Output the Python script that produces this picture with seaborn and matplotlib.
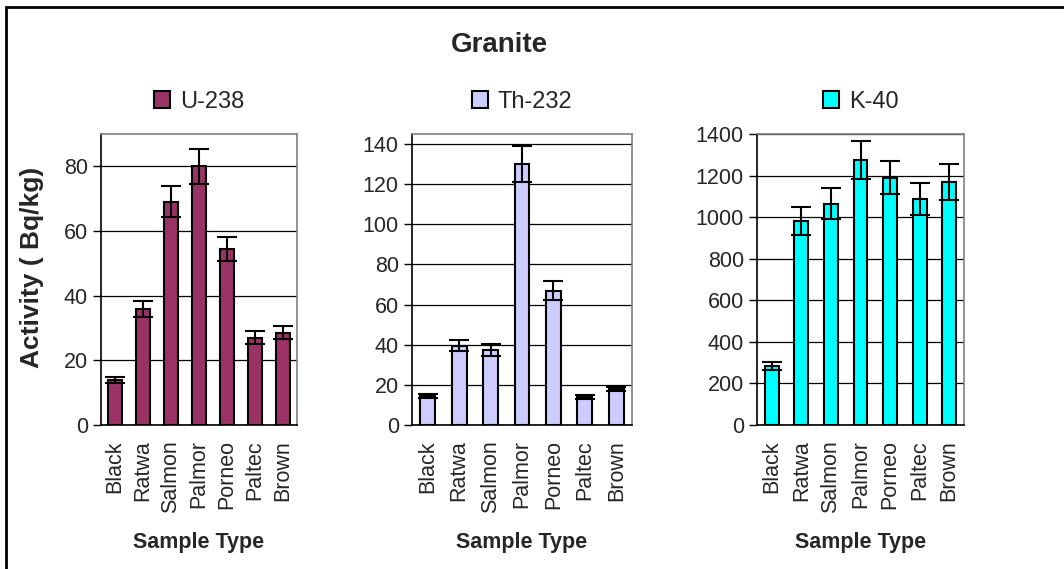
import pandas as pd
import matplotlib
matplotlib.use("Agg")
import matplotlib.pyplot as plt
from matplotlib.patches import Patch, Rectangle
import seaborn as sns

categories = ["Black", "Ratwa", "Salmon", "Palmor", "Porneo", "Paltec", "Brown"]

u238 = [14, 36, 69, 80, 54.5, 27, 28.5]
u238_err = [1, 2.5, 4.8, 5.5, 3.7, 2, 2]

th232 = [14.5, 39.5, 37.5, 130, 67, 14, 18]
th232_err = [1, 2.8, 3, 9, 4.8, 1, 1]

k40 = [285, 980, 1065, 1275, 1190, 1085, 1170]
k40_err = [20, 67, 76, 90, 80, 77, 86]

series = [
    ("U-238", u238, u238_err, "#993366", 90, [0, 20, 40, 60, 80]),
    ("Th-232", th232, th232_err, "#CCCCFF", 145, [0, 20, 40, 60, 80, 100, 120, 140]),
    ("K-40", k40, k40_err, "#00FFFF", 1400, [0, 200, 400, 600, 800, 1000, 1200, 1400]),
]

sns.set_style("white")
plt.rcParams['font.family'] = ['Liberation Sans', 'DejaVu Sans']

W, H = 1064, 569
fig = plt.figure(figsize=(W / 100, H / 100), dpi=100)

# axes boxes in pixels: left, right, top, bottom
boxes = [(101, 297, 134, 425), (412, 632, 134, 425), (757, 964, 134, 425)]

for i, ((name, vals, errs, color, ymax, yticks), (l, r, t, b)) in enumerate(zip(series, boxes)):
    ax = fig.add_axes([l / W, 1 - b / H, (r - l) / W, (b - t) / H])
    df = pd.DataFrame({"Sample": categories, "Activity": vals})
    sns.barplot(data=df, x="Sample", y="Activity", color=color, saturation=1,
                width=0.47, edgecolor="black", linewidth=1.5, ax=ax, zorder=3)
    ax.errorbar(range(len(categories)), vals, yerr=errs, fmt="none",
                ecolor="black", elinewidth=1.5, capsize=7, capthick=1.5, zorder=4)
    ax.set_ylim(0, ymax)
    ax.set_xlim(-0.5, len(categories) - 0.5)
    ax.set_yticks(yticks)
    ax.yaxis.grid(True, color="black", linewidth=0.9, zorder=0)
    ax.set_axisbelow(True)

    ax.set_xticks(range(len(categories)))
    ax.set_xticklabels(categories, rotation=90, fontsize=15.5)
    ax.set_xticks([x - 0.5 for x in range(len(categories) + 1)], minor=True)
    ax.tick_params(axis="x", which="major", length=0, pad=11)
    ax.tick_params(axis="x", which="minor", length=6, width=1, color="black", direction="out")
    ax.tick_params(axis="y", length=6, width=1, color="black", direction="out",
                   labelsize=15.5, left=True)

    for s in ["left", "bottom"]:
        ax.spines[s].set_color("black")
        ax.spines[s].set_linewidth(1.2)
    for s in ["top", "right"]:
        ax.spines[s].set_color("#808080")
        ax.spines[s].set_linewidth(1.2)

    ax.set_xlabel("Sample Type", fontsize=15.5, fontweight="bold", labelpad=14)
    ax.set_ylabel("")

    handle = Patch(facecolor=color, edgecolor="black", linewidth=1.5)
    ax.legend([handle], [name], loc="lower center", bbox_to_anchor=(0.5, 1.04),
              frameon=False, fontsize=17, handlelength=0.7, handleheight=0.7,
              handletextpad=0.4, borderaxespad=0)

fig.text(32 / W, 1 - 267 / H, "Activity ( Bq/kg)", rotation=90, fontsize=19,
         fontweight="bold", ha="center", va="center")
fig.text(499 / W, 1 - 45 / H, "Granite", fontsize=20, fontweight="bold",
         ha="center", va="center")

fig.patches.append(Rectangle((6 / W, -0.1), 1.2, 1 - 7 / H + 0.1, transform=fig.transFigure,
                             fill=False, edgecolor="black", linewidth=2))

fig.savefig("out.png", dpi=100)
